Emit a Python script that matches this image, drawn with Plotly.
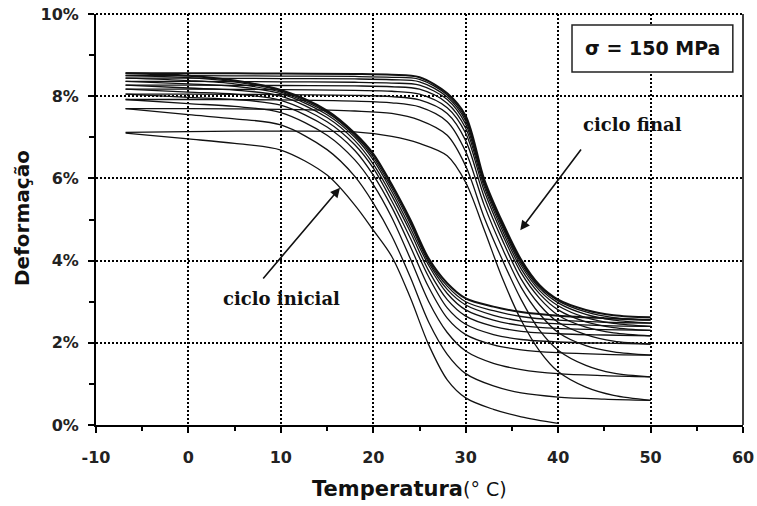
import plotly.graph_objects as go

# ---------------- data ----------------
# Cooling branches (strain rises as temperature falls), x = temperature in °C
T_cool = [-6.8, 0, 5, 10, 15, 18, 20, 22, 24, 26, 28, 30, 33, 36, 40, 45, 50]
cool_1 = [7.10, 6.96, 6.85, 6.69, 6.08, 5.35, 4.74, 4.10, 3.10, 1.95, 1.10, 0.66, 0.38, 0.20, 0.04]
cool_2 = [7.70, 7.55, 7.45, 7.30, 6.70, 6.05, 5.40, 4.60, 3.60, 2.50, 1.72, 1.25, 0.95, 0.78, 0.68, 0.63, 0.60]
cool_3 = [7.92, 7.82, 7.75, 7.60, 7.05, 6.45, 5.85, 5.05, 4.05, 3.00, 2.25, 1.80, 1.50, 1.35, 1.25, 1.20, 1.17]
cool_4 = [8.05, 7.97, 7.92, 7.78, 7.25, 6.68, 6.08, 5.30, 4.35, 3.35, 2.60, 2.20, 1.95, 1.83, 1.76, 1.72, 1.70]
cool_5 = [8.17, 8.10, 8.05, 7.90, 7.38, 6.82, 6.25, 5.45, 4.55, 3.60, 2.85, 2.45, 2.20, 2.08, 2.02, 1.99, 1.97]
cool_6 = [8.27, 8.20, 8.15, 8.00, 7.48, 6.92, 6.35, 5.58, 4.70, 3.75, 3.05, 2.65, 2.40, 2.28, 2.22, 2.19, 2.17]
cool_7 = [8.36, 8.30, 8.24, 8.06, 7.55, 7.00, 6.45, 5.68, 4.80, 3.88, 3.20, 2.80, 2.55, 2.42, 2.35, 2.32, 2.30]
cool_8 = [8.44, 8.38, 8.30, 8.10, 7.60, 7.05, 6.52, 5.76, 4.90, 3.95, 3.30, 2.92, 2.67, 2.53, 2.46, 2.42, 2.40]
cool_9 = [8.50, 8.45, 8.35, 8.13, 7.63, 7.08, 6.57, 5.82, 4.96, 4.00, 3.38, 3.00, 2.78, 2.64, 2.55, 2.50, 2.48]
cool_10 = [8.56, 8.50, 8.38, 8.15, 7.65, 7.10, 6.60, 5.85, 5.00, 4.05, 3.45, 3.08, 2.88, 2.75, 2.66, 2.60, 2.56]

# Heating branches (strain falls as temperature rises)
T_heat = [-6.8, 0, 10, 18, 22, 25, 28, 30, 32, 34, 36, 38, 40, 43, 46, 50]
heat_1 = [7.12, 7.14, 7.15, 7.13, 7.02, 6.85, 6.55, 5.90, 4.75, 3.55, 2.55, 1.80, 1.30, 0.92, 0.72, 0.60]
heat_2 = [7.70, 7.70, 7.68, 7.64, 7.58, 7.42, 7.05, 6.30, 5.05, 4.00, 3.05, 2.30, 1.82, 1.45, 1.26, 1.17]
heat_3 = [7.92, 7.92, 7.91, 7.88, 7.84, 7.74, 7.38, 6.65, 5.35, 4.28, 3.35, 2.70, 2.25, 1.93, 1.78, 1.70]
heat_4 = [8.05, 8.05, 8.04, 8.02, 7.99, 7.91, 7.58, 6.92, 5.55, 4.48, 3.55, 2.92, 2.50, 2.20, 2.04, 1.97]
heat_5 = [8.17, 8.17, 8.16, 8.14, 8.12, 8.05, 7.72, 7.10, 5.70, 4.62, 3.70, 3.08, 2.67, 2.38, 2.24, 2.17]
heat_6 = [8.27, 8.27, 8.26, 8.25, 8.23, 8.17, 7.83, 7.22, 5.80, 4.72, 3.80, 3.19, 2.80, 2.51, 2.37, 2.30]
heat_7 = [8.36, 8.36, 8.35, 8.34, 8.32, 8.27, 7.92, 7.32, 5.87, 4.80, 3.88, 3.27, 2.90, 2.61, 2.47, 2.40]
heat_8 = [8.44, 8.44, 8.43, 8.42, 8.40, 8.35, 7.98, 7.40, 5.92, 4.85, 3.94, 3.33, 2.97, 2.69, 2.55, 2.48]
heat_9 = [8.50, 8.50, 8.49, 8.48, 8.46, 8.41, 8.03, 7.46, 5.95, 4.88, 3.98, 3.37, 3.02, 2.75, 2.61, 2.55]
heat_10 = [8.56, 8.56, 8.55, 8.54, 8.52, 8.46, 8.07, 7.52, 5.98, 4.92, 4.02, 3.40, 3.05, 2.80, 2.67, 2.62]

cooling = [cool_1, cool_2, cool_3, cool_4, cool_5, cool_6, cool_7, cool_8, cool_9, cool_10]
heating = [heat_1, heat_2, heat_3, heat_4, heat_5, heat_6, heat_7, heat_8, heat_9, heat_10]

y_ticks = [0, 2, 4, 6, 8, 10]
y_labels = ["0%", "2%", "4%", "6%", "8%", "10%"]
x_ticks = [-10, 0, 10, 20, 30, 40, 50, 60]
x_labels = ["-10", "0", "10", "20", "30", "40", "50", "60"]

# ---------------- figure ----------------
fig = go.Figure()
n = len(cooling)
for i, ys in enumerate(cooling):
    fig.add_trace(go.Scatter(
        x=T_cool[:len(ys)], y=ys, mode="lines", hoverinfo="skip",
        line=dict(color="#111111", width=2.0 if i == n - 1 else 1.3,
                  shape="spline", smoothing=0.9)))
for i, ys in enumerate(heating):
    fig.add_trace(go.Scatter(
        x=T_heat[:len(ys)], y=ys, mode="lines", hoverinfo="skip",
        line=dict(color="#111111", width=2.0 if i == n - 1 else 1.3,
                  shape="spline", smoothing=0.9)))

font_sans = "DejaVu Sans, Arial, sans-serif"
font_serif = "DejaVu Serif, Times New Roman, serif"

fig.update_layout(
    width=757, height=506,
    margin=dict(l=96, r=14, t=14, b=81, autoexpand=False),
    paper_bgcolor="white", plot_bgcolor="white",
    showlegend=False,
    font=dict(family=font_sans, color="#222222"),
)

fig.update_xaxes(
    range=[-10, 60], tickvals=x_ticks, ticktext=["<b>%s</b>" % t for t in x_labels],
    automargin=False,
    showline=True, linecolor="black", linewidth=2,
    ticks="outside", ticklen=6, tickwidth=2, tickcolor="black",
    minor=dict(dtick=5, tick0=-5, ticks="outside", ticklen=4, tickwidth=1.5,
               tickcolor="black", showgrid=False),
    showgrid=True, gridcolor="black", gridwidth=2, griddash="2px,2px",
    zeroline=False,
    tickfont=dict(size=16, family=font_sans, color="#222222"),
    ticklabelstandoff=11,
)
fig.update_yaxes(
    range=[0, 10], tickvals=y_ticks, ticktext=["<b>%s</b>" % t for t in y_labels],
    automargin=False,
    showline=True, linecolor="black", linewidth=2,
    ticks="outside", ticklen=6, tickwidth=2, tickcolor="black",
    minor=dict(dtick=1, tick0=1, ticks="outside", ticklen=5, tickwidth=1.5,
               tickcolor="black", showgrid=False),
    showgrid=True, gridcolor="black", gridwidth=2, griddash="2px,2px",
    zeroline=False,
    tickfont=dict(size=16, family=font_sans, color="#222222"),
    ticklabelstandoff=6,
)

# top dotted border and right solid border
fig.add_shape(type="line", xref="paper", yref="paper", x0=0, x1=1, y0=1, y1=1,
              line=dict(color="black", width=2, dash="2px,2px"))
fig.add_shape(type="line", xref="paper", yref="paper", x0=1, x1=1, y0=0, y1=1,
              line=dict(color="black", width=1.5))

# stress box
fig.add_shape(type="rect", xref="x", yref="y", x0=41.5, x1=58.9, y0=8.59, y1=9.73,
              line=dict(color="#222222", width=1.5), fillcolor="white")
fig.add_annotation(x=50.2, y=9.17, xref="x", yref="y", showarrow=False,
                   text="<b>σ = 150 MPa</b>",
                   font=dict(size=19, family=font_sans, color="#111111"))

# curve labels with arrows
fig.add_annotation(x=48.0, y=7.3, xref="x", yref="y", showarrow=False,
                   text="<b>ciclo final</b>",
                   font=dict(size=18, family=font_serif, color="#111111"))
fig.add_annotation(x=35.9, y=4.74, ax=42.6, ay=6.74, xref="x", yref="y",
                   axref="x", ayref="y", showarrow=True, arrowhead=2,
                   arrowsize=1.2, arrowwidth=1.6, arrowcolor="#111111", text="")
fig.add_annotation(x=10.1, y=3.09, xref="x", yref="y", showarrow=False,
                   text="<b>ciclo inicial</b>",
                   font=dict(size=18, family=font_serif, color="#111111"))
fig.add_annotation(x=16.4, y=5.77, ax=7.95, ay=3.53, xref="x", yref="y",
                   axref="x", ayref="y", showarrow=True, arrowhead=2,
                   arrowsize=1.2, arrowwidth=1.6, arrowcolor="#111111", text="")

# axis titles (positions in pixels, converted to paper coordinates)
pw, ph = 757 - 96 - 14, 506 - 14 - 81
fig.add_annotation(x=(22 - 96) / pw, y=(425 - 218) / ph, xref="paper", yref="paper",
                   xanchor="center", yanchor="middle",
                   showarrow=False, text="<b>Deformação</b>", textangle=-90,
                   font=dict(size=20, family=font_sans, color="#111111"))
fig.add_annotation(x=(409 - 96) / pw, y=(425 - 489) / ph, xref="paper", yref="paper",
                   xanchor="center", yanchor="middle",
                   showarrow=False,
                   text="<b>Temperatura</b><span style='font-size:19px'>(° C)</span>",
                   font=dict(size=21, family=font_sans, color="#111111"))

fig.write_html("out.html")
